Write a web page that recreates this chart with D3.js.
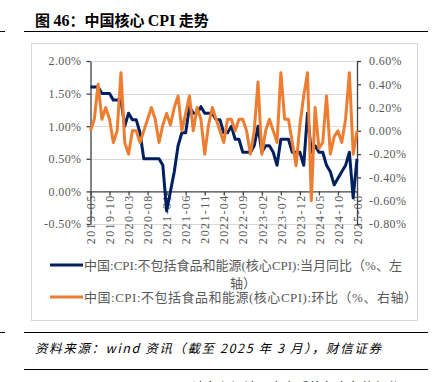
<!DOCTYPE html>
<html>
<head>
<meta charset="utf-8">
<script src="https://cdn.jsdelivr.net/npm/d3@7"></script>
<style>
  body { margin: 0; background: #fff; }
  svg { display: block; }
</style>
</head>
<body>
<div id="main"></div>
<script>
// 2019-05 .. 2025-03, one value per month
var startMonth = new Date(2019, 4, 1);
var endMonth = new Date(2025, 3, 1);
var months = d3.timeMonth.range(startMonth, endMonth);

// 当月同比 (%), left axis
var yoy = [1.6, 1.6, 1.6, 1.5, 1.5, 1.5, 1.4, 1.4,
  1.4, 1.0, 1.2, 1.1, 1.1, 0.9, 0.5, 0.5, 0.5, 0.5, 0.5, 0.4,
  -0.3, 0.0, 0.3, 0.7, 0.9, 0.9, 1.3, 1.2, 1.2, 1.3, 1.2, 1.2,
  1.2, 1.1, 1.1, 0.9, 0.9, 1.0, 0.8, 0.8, 0.6, 0.6, 0.6, 0.7,
  1.0, 0.6, 0.7, 0.7, 0.6, 0.4, 0.8, 0.8, 0.8, 0.6, 0.6, 0.6,
  0.4, 1.2, 0.6, 0.7, 0.6, 0.6, 0.4, 0.3, 0.1, 0.2, 0.3, 0.4,
  0.6, -0.1, 0.5];

// 环比 (%), right axis
var mom = [0.0, 0.1, 0.4, 0.1, 0.2, 0.1, -0.1, 0.0,
  0.5, -0.1, -0.2, 0.0, 0.0, -0.1, 0.0, 0.1, 0.2, 0.1, -0.1, 0.05,
  0.15, 0.05, 0.2, 0.3, 0.0, 0.15, 0.3, 0.0, 0.2, 0.1, -0.2, 0.05,
  0.2, 0.1, 0.0, -0.1, 0.1, 0.1, 0.0, 0.1, 0.1, 0.0, -0.2, 0.0,
  0.42, -0.2, 0.0, 0.1, 0.0, -0.1, 0.5, 0.1, 0.1, -0.1, -0.3, 0.05,
  0.3, 0.5, -0.6, 0.2, -0.15, -0.1, 0.3, -0.2, -0.05, 0.0, -0.1, 0.1,
  0.5, -0.2, 0.0];

var tickLabels = ['2019-05', '2019-10', '2020-03', '2020-08', '2021-01', '2021-06',
  '2021-11', '2022-04', '2022-09', '2023-02', '2023-07', '2023-12',
  '2024-05', '2024-10', '2025-03'];
var leftTicks = [-0.5, 0, 0.5, 1.0, 1.5, 2.0];
var rightTicks = [-0.8, -0.6, -0.4, -0.2, 0, 0.2, 0.4, 0.6];

var legendNames = ['中国:CPI:不包括食品和能源(核心CPI):当月同比（%、左轴）',
  '中国:CPI:不包括食品和能源(核心CPI):环比（%、右轴）'];

var W = 436, H = 382;
var navy = '#002060', orange = '#ED7D31', grey = '#595959';
var serif = '"Liberation Serif", "Times New Roman", serif';
var cjk = '"Noto Sans CJK SC", sans-serif';

var svg = d3.select('#main').append('svg')
  .attr('width', W).attr('height', H);

// page rules + title
svg.append('line').attr('x1', 0).attr('x2', 5).attr('y1', 31.5).attr('y2', 31.5).attr('stroke', '#000');
svg.append('line').attr('x1', 24).attr('x2', 428).attr('y1', 31.5).attr('y2', 31.5).attr('stroke', '#000');
var title = svg.append('text').attr('x', 35).attr('y', 26)
  .attr('font-size', 15).attr('font-weight', 'bold').attr('fill', '#000').attr('font-family', cjk);
title.append('tspan').text('图 ');
title.append('tspan').attr('font-family', serif).attr('font-size', 16).text('46');
title.append('tspan').text('：中国核心 ');
title.append('tspan').attr('font-family', serif).attr('font-size', 16).text('CPI');
title.append('tspan').text(' 走势');

// chart frame
svg.append('rect').attr('x', 31.5).attr('y', 43.5).attr('width', 386).attr('height', 277)
  .attr('fill', 'none').attr('stroke', '#d9d9d9');

// scales
var x = d3.scaleLinear().domain([0, months.length - 1]).range([90.5, 357]);
var yL = d3.scaleLinear().domain([-0.5, 2.0]).range([224, 61]);
var yR = d3.scaleLinear().domain([-0.8, 0.6]).range([224, 61]);

// grid
svg.append('g').selectAll('line').data(leftTicks.filter(function(d) { return d !== 0; }))
  .enter().append('line')
  .attr('x1', x(0)).attr('x2', x(months.length - 1))
  .attr('y1', function(d) { return Math.round(yL(d)) + 0.5; })
  .attr('y2', function(d) { return Math.round(yL(d)) + 0.5; })
  .attr('stroke', '#d9d9d9').attr('stroke-width', 1);

function pct(d) { return d.toFixed(2) + '%'; }

function styleAxis(g) {
  g.select('.domain').attr('stroke', '#404040').attr('stroke-width', 1.3);
  g.selectAll('.tick line').attr('stroke', '#404040').attr('stroke-width', 1.3);
  g.selectAll('text').attr('fill', grey).attr('font-family', serif)
    .attr('font-size', 12).attr('letter-spacing', 0.4);
}

var gL = svg.append('g').attr('transform', 'translate(' + x(0) + ',0)')
  .call(d3.axisLeft(yL).tickValues(leftTicks).tickFormat(pct).tickSize(4).tickSizeOuter(0).tickPadding(5));
styleAxis(gL);

var gR = svg.append('g').attr('transform', 'translate(' + x(months.length - 1) + ',0)')
  .call(d3.axisRight(yR).tickValues(rightTicks).tickFormat(pct).tickSize(4).tickSizeOuter(0).tickPadding(8));
styleAxis(gR);

var fmt = d3.timeFormat('%Y-%m');
var tickIdx = months.map(function(m, i) { return i; })
  .filter(function(i) { return tickLabels.indexOf(fmt(months[i])) >= 0; });

var gX = svg.append('g').attr('transform', 'translate(0,' + yL(0) + ')')
  .call(d3.axisBottom(x).tickValues(tickIdx).tickFormat(function(i) { return fmt(months[i]); })
    .tickSize(4).tickSizeOuter(0));
styleAxis(gX);
gX.selectAll('text')
  .attr('transform', 'rotate(-90)')
  .attr('text-anchor', 'end')
  .attr('dy', '0.35em')
  .attr('x', -3).attr('y', 0)
  .attr('letter-spacing', 1.4);

// series
var lineL = d3.line().x(function(d, i) { return x(i); }).y(function(d) { return yL(d); });
var lineR = d3.line().x(function(d, i) { return x(i); }).y(function(d) { return yR(d); });

svg.append('path').datum(yoy).attr('d', lineL)
  .attr('fill', 'none').attr('stroke', navy).attr('stroke-width', 3).attr('stroke-linejoin', 'round');
svg.append('path').datum(mom).attr('d', lineR)
  .attr('fill', 'none').attr('stroke', orange).attr('stroke-width', 3).attr('stroke-linejoin', 'round');

// legend
var leg = svg.append('g');
leg.append('line').attr('x1', 50).attr('x2', 83).attr('y1', 265).attr('y2', 265)
  .attr('stroke', navy).attr('stroke-width', 3);
leg.append('line').attr('x1', 50).attr('x2', 83).attr('y1', 297).attr('y2', 297)
  .attr('stroke', orange).attr('stroke-width', 3);

function legendText(s, xx, yy) {
  var t = leg.append('text').attr('x', xx).attr('y', yy)
    .attr('font-size', 13).attr('fill', grey).attr('font-family', cjk);
  // latin parts in serif
  s.split(/(CPI|:|\(|\)|%)/).forEach(function(p) {
    if (!p) return;
    var ts = t.append('tspan').text(p);
    if (/^(CPI|:|\(|\)|%)$/.test(p)) ts.attr('font-family', serif);
  });
  return t;
}
var first = legendNames[0];
legendText(first.slice(0, first.length - 2), 84, 270);
legendText(first.slice(first.length - 2), 230, 288);
legendText(legendNames[1], 84, 302).attr('letter-spacing', 0.5);

// source
svg.append('line').attr('x1', 0).attr('x2', 5).attr('y1', 332.5).attr('y2', 332.5).attr('stroke', '#000');
svg.append('line').attr('x1', 24).attr('x2', 428).attr('y1', 332.5).attr('y2', 332.5).attr('stroke', '#000');
svg.append('text').attr('x', 35).attr('y', 353)
  .attr('font-size', 12.5).attr('font-style', 'italic').attr('fill', '#000')
  .attr('font-family', cjk).attr('letter-spacing', 1.6)
  .text('资料来源：wind 资讯（截至 2025 年 3 月），财信证券');
svg.append('line').attr('x1', 24).attr('x2', 428).attr('y1', 369.5).attr('y2', 369.5).attr('stroke', '#000');
svg.append('text').attr('x', 192).attr('y', 392)
  .attr('font-size', 13).attr('fill', '#000').attr('font-family', cjk)
  .text('请务必阅读正文之后的免责条款部分');
</script>
</body>
</html>
